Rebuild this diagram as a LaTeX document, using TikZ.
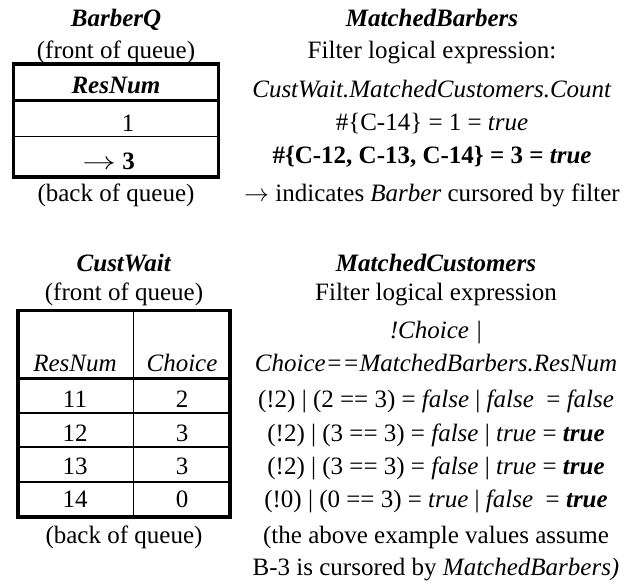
\documentclass[tikz,border=0pt]{standalone}
\usepackage{fontspec}
\setmainfont{Liberation Serif}
\begin{document}
\begin{tikzpicture}[x=1pt,y=-1pt,
    txt/.style={anchor=base,inner sep=0pt,font=\fontsize{25}{30}\selectfont},
    outer/.style={line width=3.5pt},
    headline/.style={line width=3pt},
    rowline/.style={line width=1.3pt}]
      \useasboundingbox(0,0)rectangle(642,586);
      \begin{scope}
        \draw[outer](13.5,64)rectangle(218.5,177);
        \draw[headline](13.5,100.5)--(218.5,100.5);
        \draw[rowline](13.5,136.5)--(218.5,136.5);
        \node[txt](barberq)at(116,27){\textbf{\textit{BarberQ}}};
        \node[txt](bqfront)at(116,59){(front of queue)};
        \node[txt](bqhead)at(116,93){\textbf{\textit{ResNum}}};
        \node[txt](bq1)at(128,131){1};
        \node[txt](bq3)at(128.5,169){\textbf{3}};
        \node[txt,anchor=base east](cursor)at([xshift=-6pt]bq3.base west){\scalebox{1.35}[1]{$\rightarrow$}};
        \node[txt](bqback)at(116,201){(back of queue)};
        \foreach \t [count=\i] in {{\textbf{\textit{MatchedBarbers}}},{Filter logical expression:},
          {\textit{CustWait.MatchedCustomers.Count}},{\#\{C-14\} = 1 = \textit{true}},
          {\textbf{\#\{C-12, C-13, C-14\} = 3 = \textit{true}}},
          {$\rightarrow$ indicates \textit{Barber} cursored by filter}}{
          \pgfmathsetmacro\yb{{27,59,97,130,163,201}[\i-1]}
          \node[txt](mb\i)at(432,\yb){\t};
        }
      \end{scope}
      \begin{scope}
        \draw[outer](18,310.5)rectangle(230,517);
        \draw[headline](18,378)--(230,378);
        \foreach \y in {413,447,482}{
          \draw[rowline](18,\y)--(230,\y);
        }
        \draw[rowline](133.3,310.5)--(133.3,517);
        \node[txt](custwait)at(124,271){\textbf{\textit{CustWait}}};
        \node[txt](cwfront)at(124,300){(front of queue)};
        \node[txt](cwres)at(75,371){\textit{ResNum}};
        \node[txt](cwcho)at(182,371){\textit{Choice}};
        \foreach \r/\c/\y [count=\i] in {11/2/407,12/3/441,13/3/474,14/0/507}{
          \node[txt](res\i)at(75,\y){\r};
          \node[txt](cho\i)at(182,\y){\c};
        }
        \node[txt](cwback)at(124,543){(back of queue)};
        \foreach \t [count=\i] in {{\textbf{\textit{MatchedCustomers}}},{Filter logical expression},
          {\textit{!Choice |}},{\textit{Choice==MatchedBarbers.ResNum}},
          {(!2) | (2 == 3) = \textit{false} | \textit{false}\ \ = \textit{false}},
          {(!2) | (3 == 3) = \textit{false} | \textit{true} = \textbf{\textit{true}}},
          {(!2) | (3 == 3) = \textit{false} | \textit{true} = \textbf{\textit{true}}},
          {(!0) | (0 == 3) = \textit{true} | \textit{false}\ \ = \textbf{\textit{true}}},
          {(the above example values assume},
          {B-3 is cursored by \textit{MatchedBarbers)}}}{
          \pgfmathsetmacro\yb{{271,300,338,371,407,441,474,507,543,575}[\i-1]}
          \node[txt](mc\i)at(436,\yb){\t};
        }
      \end{scope}
    \end{tikzpicture}
\end{document}
